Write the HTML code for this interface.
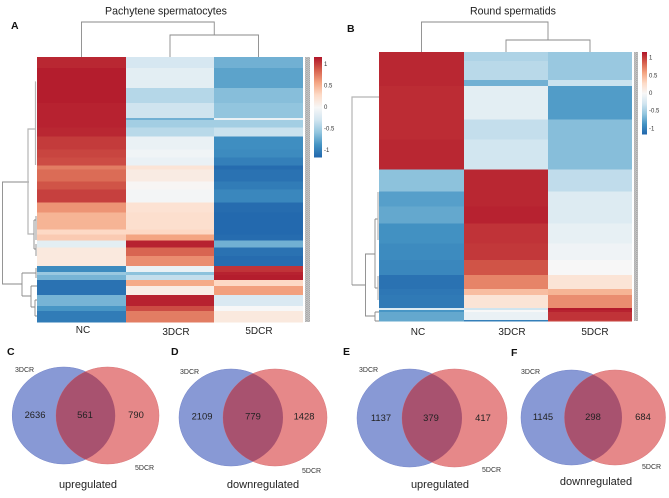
<!DOCTYPE html>
<html>
<head>
<meta charset="utf-8">
<style>
html,body{margin:0;padding:0;background:#fff;}
svg{display:block;filter:blur(.3px);}
text{font-family:"Liberation Sans",sans-serif;fill:#222;}
.dg{stroke:#8a8a8a;stroke-width:.9;fill:none;}
.dgl{stroke:#b5b5b5;stroke-width:1.2;fill:none;}
.num{font-size:9.4px;text-anchor:middle;}
.set{font-size:7px;fill:#333;}
.sub{font-size:11px;text-anchor:middle;}
.let{font-size:10.5px;font-weight:bold;fill:#111;}
.col{font-size:10px;text-anchor:middle;}
.tick{font-size:6px;fill:#333;}
.title{font-size:10.6px;text-anchor:middle;}
.vb{fill:#8899d5;stroke:#7484c8;stroke-width:.5;}
.vr{fill:#e68889;stroke:#d97578;stroke-width:.5;}
.vo{fill:#a8526f;}
</style>
</head>
<body>
<svg id="fig" width="669" height="498" viewBox="0 0 669 498" xmlns="http://www.w3.org/2000/svg">
  <defs>
    <clipPath id="cC"><ellipse cx="63.7" cy="415.5" rx="51.5" ry="48.5"/></clipPath>
    <clipPath id="cD"><ellipse cx="231" cy="417.5" rx="52" ry="48.5"/></clipPath>
    <clipPath id="cE"><ellipse cx="409.5" cy="418" rx="52.5" ry="49"/></clipPath>
    <clipPath id="cF"><ellipse cx="571.5" cy="417.5" rx="50.5" ry="47.5"/></clipPath>
    <pattern id="strip" width="3" height="2" patternUnits="userSpaceOnUse">
      <rect width="3" height="2" fill="#c4c4c4"/>
      <rect x="0" y="0" width="1.6" height="1" fill="#a8a8a8"/>
      <rect x="1.5" y="1" width="1.5" height="1" fill="#b2b2b2"/>
    </pattern>
  </defs>

  <text class="title" x="166" y="14.5">Pachytene spermatocytes</text>
  <text class="title" x="513" y="14.5">Round spermatids</text>
  <text class="let" x="11" y="29">A</text>
  <text class="let" x="347" y="32">B</text>

  <g id="heatA"></g>
  <g id="heatB"></g>

  <rect x="305" y="57" width="5" height="265" fill="url(#strip)"/>
  <rect x="634" y="52" width="4" height="269" fill="url(#strip)"/>

  <!-- left dendrogram A -->
  <g>
    <path class="dg" d="M29 182H2.5V284H22"/>
    <path class="dgl" d="M36 129H28V234H34"/>
    <path class="dgl" d="M36 82H35.5V165"/>
    <path class="dg" d="M34 220V249M34 220H36M34 249H36M36 216V240M36 244V256"/>
    <path class="dg" d="M22 273V296M22 273H36M22 296H31M31 286V307M31 286H37M31 307H35M35 300V316M35 300H37M35 316H37M36 268V278"/>
  </g>
  <!-- left dendrogram B -->
  <g>
    <path class="dgl" d="M379 97H352V285"/>
    <path class="dg" d="M352 285H365.5V254H375M365.5 285V316H375"/>
    <path class="dg" d="M375 219V288M375 219H378M375 288H378M375 312V321M375 312H379M375 321H379"/>
    <path class="dgl" d="M378 192V240M378 276V300"/>
  </g>

  <!-- venn C -->
  <g>
    <text class="let" x="7" y="355">C</text>
    <ellipse class="vb" cx="63.7" cy="415.5" rx="51.5" ry="48.5"/>
    <ellipse class="vr" cx="107.5" cy="415.5" rx="51.5" ry="48.5"/>
    <ellipse class="vo" cx="107.5" cy="415.5" rx="51.5" ry="48.5" clip-path="url(#cC)"/>
    <text class="set" x="15" y="372">3DCR</text>
    <text class="set" x="135" y="470">5DCR</text>
    <text class="num" x="35" y="418">2636</text>
    <text class="num" x="85" y="418">561</text>
    <text class="num" x="136" y="418">790</text>
    <text class="sub" x="88" y="488">upregulated</text>
  </g>
  <!-- venn D -->
  <g>
    <text class="let" x="171" y="355">D</text>
    <ellipse class="vb" cx="231" cy="417.5" rx="52" ry="48.5"/>
    <ellipse class="vr" cx="275" cy="417.5" rx="52" ry="48.5"/>
    <ellipse class="vo" cx="275" cy="417.5" rx="52" ry="48.5" clip-path="url(#cD)"/>
    <text class="set" x="180" y="374">3DCR</text>
    <text class="set" x="302" y="473">5DCR</text>
    <text class="num" x="202" y="419.5">2109</text>
    <text class="num" x="253" y="419.5">779</text>
    <text class="num" x="304" y="419.5">1428</text>
    <text class="sub" x="263" y="488">downregulated</text>
  </g>
  <!-- venn E -->
  <g>
    <text class="let" x="343" y="355">E</text>
    <ellipse class="vb" cx="409.5" cy="418" rx="52.5" ry="49"/>
    <ellipse class="vr" cx="454.5" cy="418" rx="52.5" ry="49"/>
    <ellipse class="vo" cx="454.5" cy="418" rx="52.5" ry="49" clip-path="url(#cE)"/>
    <text class="set" x="359" y="372">3DCR</text>
    <text class="set" x="482" y="472">5DCR</text>
    <text class="num" x="381" y="421">1137</text>
    <text class="num" x="431" y="421">379</text>
    <text class="num" x="483" y="421">417</text>
    <text class="sub" x="440" y="488">upregulated</text>
  </g>
  <!-- venn F -->
  <g>
    <text class="let" x="511" y="356">F</text>
    <ellipse class="vb" cx="571.5" cy="417.5" rx="50.5" ry="47.5"/>
    <ellipse class="vr" cx="615" cy="417.5" rx="50.5" ry="47.5"/>
    <ellipse class="vo" cx="615" cy="417.5" rx="50.5" ry="47.5" clip-path="url(#cF)"/>
    <text class="set" x="521" y="374">3DCR</text>
    <text class="set" x="642" y="469">5DCR</text>
    <text class="num" x="543" y="420">1145</text>
    <text class="num" x="593" y="420">298</text>
    <text class="num" x="643" y="420">684</text>
    <text class="sub" x="596" y="485">downregulated</text>
  </g>
</svg>

<script>
const columns = ["NC", "3DCR", "5DCR"];
const colorTicks = [1, 0.5, 0, -0.5, -1];

const genesA = [11,20,15,15,2,8,9,13,8,8,4,12,8,13,10,17,5,6,7,9,10,6,3,5,6,9,11,5,11];
const ncA   = [1.1,1.14,1.14,1.12,1.12,1.12,1.1,1.02,0.98,0.95,0.75,0.82,0.92,1.0,0.65,0.5,0.3,0.38,-0.15,0.15,0.15,-0.92,-0.55,-0.68,-1.08,-1.08,-0.68,-0.85,-1.02];
const d3A   = [-0.25,-0.15,-0.42,-0.3,-0.7,-0.5,-0.4,-0.1,-0.05,-0.1,0.2,0.12,0.02,-0.03,0.22,0.25,0.3,0.58,1.12,0.85,0.68,-0.1,-0.6,-0.35,0.55,0.1,1.12,0.95,0.75];
const d5A   = [-0.7,-0.78,-0.62,-0.58,-0.1,-0.5,-0.32,-0.9,-0.92,-1.0,-1.12,-1.08,-1.02,-0.95,-1.12,-1.14,-1.14,-1.12,-0.7,-1.08,-1.12,1.05,1.12,1.14,0.3,0.6,-0.22,0,0.15];

const genesB = [9,19,6,34,20,30,22,15,17,20,17,15,14,6,13,2,2,8,1];
const ncB    = [1.1,1.1,1.1,1.08,1.08,1.1,-0.6,-0.8,-0.75,-0.88,-0.92,-0.95,-1.08,-1.05,-1.03,-0.2,-0.85,-0.75,-0.75];
const d3B    = [-0.45,-0.4,-0.7,-0.15,-0.35,-0.28,1.1,1.1,1.12,1.05,1.03,0.92,0.72,0.45,0.2,-0.3,0,-0.1,-1];
const d5B    = [-0.55,-0.55,-0.32,-0.82,-0.62,-0.62,-0.37,-0.2,-0.2,-0.12,-0.06,0,0.2,0.5,0.68,1.15,1.12,1.05,1];

const NS = "http://www.w3.org/2000/svg";
const palette = ["#2166ac","#4393c3","#92c5de","#d1e5f0","#f7f7f7","#fddbc7","#f4a582","#d6604d","#b2182b"];

function hex(c){return [1,3,5].map(i=>parseInt(c.substr(i,2),16));}
function colorOf(v,max){
  let t=(Math.max(-max,Math.min(max,v))+max)/(2*max)*(palette.length-1);
  let i=Math.min(palette.length-2,Math.floor(t)),f=t-i;
  let a=hex(palette[i]),b=hex(palette[i+1]);
  return "rgb("+a.map((x,k)=>Math.round(x+(b[k]-x)*f)).join(",")+")";
}
function make(parent,tag,attrs){
  const el=document.createElementNS(NS,tag);
  for(const k in attrs) el.setAttribute(k,attrs[k]);
  parent.appendChild(el);
  return el;
}

function drawHeat(cfg){
  const g=document.getElementById(cfg.id);
  const total=cfg.genes.reduce((a,b)=>a+b,0);
  const yScale=r=>cfg.y0+(cfg.y1-cfg.y0)*r/total;
  const xScale=c=>cfg.xs[c];
  cfg.series.forEach((vals,c)=>{
    let r=0;
    vals.forEach((v,i)=>{
      const top=yScale(r),bot=yScale(r+cfg.genes[i]);
      const cell=make(g,"rect",{x:xScale(c),y:top,width:xScale(c+1)-xScale(c),height:bot-top+0.3,fill:colorOf(v,1.16),"shape-rendering":"crispEdges"});
      
      
      r+=cfg.genes[i];
    });
    const lab=make(g,"text",{x:cfg.labelX[c],y:cfg.labelY[c],class:"col"});
    lab.textContent=columns[c];
    
    
  });
  // column dendrogram from merge heights
  const mid=c=>(xScale(c)+xScale(c+1))/2;
  const subX=(mid(1)+mid(2))/2, rootR=subX;
  const d=make(g,"path",{class:"dg",d:"M"+mid(1)+" "+cfg.y0+"V"+cfg.subY+"H"+mid(2)+"V"+cfg.y0+
    "M"+rootR+" "+cfg.subY+"V"+cfg.rootY+"H"+mid(0)+"V"+cfg.y0});
  
  
  // colour bar
  const barH=cfg.barY1-cfg.barY0, steps=Math.round(barH);
  for(let s=0;s<steps;s++){
    const v=1.16-2.32*s/steps;
    const seg=make(g,"rect",{x:cfg.barX,y:cfg.barY0+barH*s/steps,width:cfg.barW,height:barH/steps+0.3,fill:colorOf(v,1.16),"shape-rendering":"crispEdges"});
    
    
  }
  colorTicks.forEach(t=>{
    const y=(cfg.barY0+cfg.barY1)/2-t*barH/2/1.16;
    const tx=make(g,"text",{x:cfg.barX+cfg.barW+2,y:y+2,class:"tick"});
    tx.textContent=String(t);
    
    
  });
}

drawHeat({id:"heatA",genes:genesA,series:[ncA,d3A,d5A],xs:[37,126,214,303],y0:57,y1:322,
  labelX:[83,176,259],labelY:[333,335,334],subY:35,rootY:22,barX:314,barW:8,barY0:57,barY1:157});
drawHeat({id:"heatB",genes:genesB,series:[ncB,d3B,d5B],xs:[379,464,548,632],y0:52,y1:321,
  labelX:[418,512,595],labelY:[335,335,335],subY:40,rootY:22,barX:642,barW:5,barY0:52,barY1:134});
</script>
</body>
</html>
